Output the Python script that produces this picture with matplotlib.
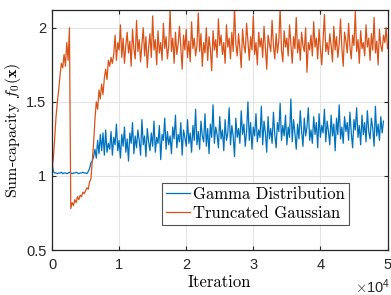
import numpy as np
import matplotlib
matplotlib.use("Agg")
import matplotlib.pyplot as plt

plt.rcParams['mathtext.fontset'] = 'cm'
plt.rcParams['axes.unicode_minus'] = False

step = 200
iterations = np.arange(0, 50001, step)

gamma_early = [1.10, 1.03, 1.02,
               1.02, 1.015, 1.02, 1.02, 1.025, 1.015, 1.02, 1.02, 1.015, 1.02,
               1.025, 1.02, 1.015, 1.02, 1.02, 1.025, 1.02, 1.015, 1.02, 1.02,
               1.025, 1.02, 1.02, 1.015,
               1.03, 1.05, 1.09, 1.10, 1.13, 1.18, 1.12, 1.24, 1.15, 1.28,
               1.17, 1.29, 1.14, 1.31, 1.16, 1.22]
gamma_rest = [
    1.18, 1.30, 1.14, 1.26, 1.21, 1.35, 1.17, 1.24, 1.12, 1.28,
    1.20, 1.33, 1.16, 1.25, 1.10, 1.29, 1.22, 1.36, 1.15, 1.27,
    1.19, 1.31, 1.24, 1.14, 1.38, 1.21, 1.27, 1.13, 1.32, 1.23,
    1.17, 1.29, 1.20, 1.37, 1.16, 1.26, 1.22, 1.34, 1.11, 1.28,
    1.24, 1.39, 1.18, 1.30, 1.21, 1.27, 1.15, 1.33, 1.25, 1.41,
    1.19, 1.28, 1.23, 1.36, 1.14, 1.31, 1.26, 1.20, 1.38, 1.22,
    1.29, 1.16, 1.34, 1.24, 1.45, 1.21, 1.30, 1.18, 1.37, 1.27,
    1.23, 1.42, 1.20, 1.32, 1.15, 1.35, 1.26, 1.48, 1.22, 1.33,
    1.28, 1.19, 1.40, 1.25, 1.31, 1.17, 1.38, 1.24, 1.29, 1.46,
    1.21, 1.34, 1.27, 1.13, 1.39, 1.26, 1.32, 1.22, 1.44, 1.28,
    1.35, 1.20, 1.30, 1.50, 1.24, 1.36, 1.18, 1.33, 1.27, 1.42,
    1.23, 1.31, 1.26, 1.47, 1.21, 1.37, 1.29, 1.16, 1.40, 1.25,
    1.32, 1.22, 1.43, 1.28, 1.19, 1.36, 1.30, 1.49, 1.24, 1.34,
    1.27, 1.41, 1.21, 1.33, 1.26, 1.52, 1.23, 1.38, 1.29, 1.18,
    1.35, 1.25, 1.44, 1.30, 1.20, 1.39, 1.27, 1.33, 1.46, 1.24,
    1.31, 1.22, 1.40, 1.28, 1.36, 1.19, 1.42, 1.26, 1.34, 1.29,
    1.45, 1.23, 1.37, 1.30, 1.21, 1.41, 1.27, 1.35, 1.17, 1.39,
    1.28, 1.48, 1.25, 1.33, 1.22, 1.40, 1.30, 1.36, 1.24, 1.43,
    1.29, 1.19, 1.38, 1.31, 1.46, 1.26, 1.34, 1.21, 1.41, 1.28,
    1.36, 1.23, 1.44, 1.30, 1.25, 1.39, 1.32, 1.20, 1.47, 1.27,
    1.35, 1.24, 1.40, 1.29, 1.37]

gauss_early = [1.04, 1.12, 1.25, 1.40, 1.50, 1.58, 1.68, 1.76, 1.73, 1.82,
               1.74, 1.90, 1.78, 2.00, 0.78, 0.82, 0.80, 0.84, 0.82, 0.86,
               0.84, 0.87, 0.86, 0.89, 0.88, 0.90, 0.92, 0.91, 0.96, 0.98,
               1.10, 1.22, 1.38, 1.50, 1.45, 1.58, 1.52, 1.62, 1.55, 1.66,
               1.72, 1.65, 1.78, 1.74, 1.80, 1.76]
gauss_rest = [
    1.82, 1.95, 1.78, 1.90, 1.85, 2.02, 1.80, 1.93, 1.76, 1.88,
    1.97, 1.83, 1.91, 1.74, 1.99, 1.86, 1.79, 2.05, 1.84, 1.92,
    1.77, 1.89, 2.00, 1.81, 1.94, 1.73, 1.87, 1.96, 1.80, 2.08,
    1.85, 1.92, 1.75, 1.98, 1.83, 1.90, 1.78, 2.03, 1.86, 1.94,
    1.79, 1.88, 2.12, 1.84, 1.93, 1.76, 1.97, 1.82, 1.89, 2.01,
    1.87, 1.72, 1.95, 1.85, 1.99, 1.80, 1.91, 1.77, 2.04, 1.86,
    1.93, 1.81, 1.88, 2.10, 1.84, 1.96, 1.74, 1.90, 1.83, 2.00,
    1.78, 1.94, 1.86, 1.71, 1.98, 1.85, 1.92, 1.80, 2.06, 1.88,
    1.95, 1.82, 1.90, 1.76, 2.02, 1.87, 1.93, 1.79, 1.97, 1.84,
    2.14, 1.89, 1.81, 1.96, 1.86, 1.73, 1.99, 1.88, 1.83, 2.03,
    1.91, 1.78, 1.94, 1.85, 2.08, 1.82, 1.90, 1.75, 1.97, 1.87,
    1.93, 1.80, 2.01, 1.86, 1.72, 1.95, 1.89, 1.84, 2.05, 1.88,
    1.79, 1.96, 1.83, 1.91, 2.13, 1.85, 1.77, 1.98, 1.87, 1.93,
    1.81, 2.02, 1.89, 1.76, 1.94, 1.86, 2.07, 1.83, 1.92, 1.78,
    1.97, 1.88, 1.84, 2.00, 1.70, 1.90, 1.85, 1.95, 1.81, 2.04,
    1.87, 1.93, 1.79, 1.99, 1.86, 1.75, 1.92, 2.09, 1.84, 1.90,
    1.82, 1.96, 1.88, 1.77, 2.01, 1.85, 1.94, 1.80, 1.89, 2.06,
    1.86, 1.74, 1.97, 1.91, 1.83, 2.03, 1.87, 1.79, 1.95, 1.88,
    2.11, 1.84, 1.92, 1.76, 1.98, 1.86, 1.90, 1.81, 2.02, 1.87,
    1.93, 1.78, 1.96, 1.85, 2.07, 1.83, 1.91, 1.75, 1.99, 1.88,
    1.84, 1.95, 1.90, 2.00, 1.86]

gamma = np.array(gamma_early + gamma_rest)
gauss = np.array(gauss_early + gauss_rest)
xg = iterations[:len(gamma)]
xt = iterations[:len(gauss)]

xticks = [0, 10000, 20000, 30000, 40000, 50000]
xticklabels = ['0', '1', '2', '3', '4', '5']
yticks = [0.5, 1.0, 1.5, 2.0]
yticklabels = ['0.5', '1', '1.5', '2']

fig = plt.figure(figsize=(3.91, 2.95), dpi=100)
ax = fig.add_axes([52/391, 1-250/295, (387.5-52)/391, 240/295])

ax.plot(xg, gamma, color='#0072BD', lw=0.9, label='Gamma Distribution')
ax.plot(xt, gauss, color='#D95319', lw=0.9, label='Truncated Gaussian')

ax.set_xlim(0, 50000)
ax.set_ylim(0.5, 2.12)
ax.set_xticks(xticks)
ax.set_xticklabels(xticklabels, family='Liberation Sans', fontsize=10.5, color='#262626')
ax.set_yticks(yticks)
ax.set_yticklabels(yticklabels, family='Liberation Sans', fontsize=10.5, color='#262626')
ax.tick_params(direction='in', length=3, width=0.8, top=True, right=True, color='#262626')
ax.tick_params(axis='x', pad=6)
ax.tick_params(axis='y', pad=4)
ax.grid(True, color='#e3e3e3', lw=0.8)
ax.set_axisbelow(True)
for s in ax.spines.values():
    s.set_color('#262626')
    s.set_linewidth(0.9)

ax.set_xlabel('Iteration', family='cmr10', fontsize=12, labelpad=2)
ax.set_ylabel(r'Sum-capacity $f_0(\mathbf{x})$', family='cmr10', fontsize=11.5, labelpad=2)
ax.text((390.5-52)/335.5, -27/240, r'$\times\mathregular{10^{4}}$', transform=ax.transAxes,
        ha='right', va='top', family='Liberation Sans', fontsize=10.5, color='#262626')

leg = ax.legend(loc='lower left', bbox_to_anchor=((162-52)/335.5, (250-225)/240),
                prop={'family': 'cmr10', 'size': 12}, frameon=True, fancybox=False,
                edgecolor='#262626', handlelength=1.4, handletextpad=0.2,
                borderpad=0.25, labelspacing=0.2, borderaxespad=0)
leg.get_frame().set_linewidth(0.8)

fig.savefig('out.png', dpi=100)
